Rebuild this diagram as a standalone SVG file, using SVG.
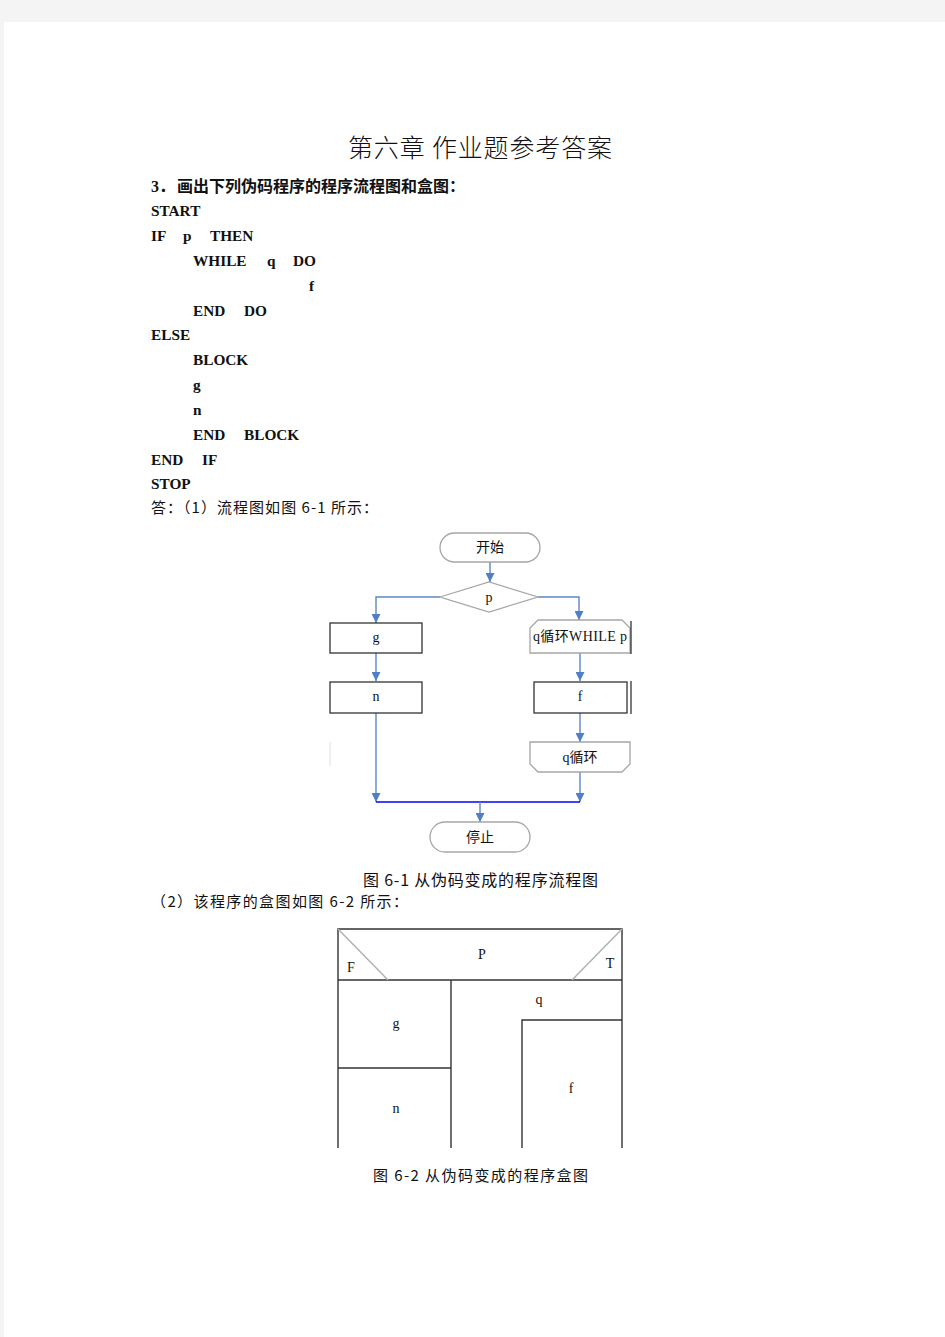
<svg xmlns="http://www.w3.org/2000/svg" width="945" height="1337" viewBox="0 0 945 1337">
<style>
.cn{font-family:"Noto Sans CJK SC","Noto Sans",sans-serif;fill:#111}
.tm{font-family:"Liberation Serif","Noto Sans CJK SC",serif;fill:#111}
.b{font-weight:bold}
.code{font-family:"Liberation Serif",serif;font-weight:bold;font-size:15.3px;fill:#111}
.term{fill:#fff;stroke:#a6a6a6;stroke-width:1.3}
.box{fill:#fff;stroke:#333;stroke-width:1.3}
.con{fill:none;stroke:#5b87c9;stroke-width:1.4}
.bx{stroke:#333;stroke-width:1.4;fill:none}
.diag{stroke:#b0b0b0;stroke-width:1.4}
.lbl{font-size:14px;text-anchor:middle}
</style>
<defs>
<marker id="ah" markerWidth="9" markerHeight="9" refX="9" refY="4.5" orient="auto" markerUnits="userSpaceOnUse">
<path d="M0,0 L9,4.5 L0,9 z" fill="#4f7fc6"/>
</marker>
</defs>
<rect x="0" y="0" width="945" height="1337" fill="#f4f4f4"/>
<rect x="4" y="22" width="941" height="1315" fill="#fff"/>

<text class="cn" x="480" y="157" font-size="25" font-weight="300" text-anchor="middle" textLength="264" lengthAdjust="spacing">第六章 作业题参考答案</text>
<text class="tm b" x="151" y="192" font-size="16">3．</text>
<text class="cn b" x="177" y="192" font-size="16" textLength="288" lengthAdjust="spacing">画出下列伪码程序的程序流程图和盒图：</text>

<g id="pseudocode">
<text class="code" x="151" y="216">START</text>
<text class="code" x="151" y="241">IF</text><text class="code" x="183" y="241">p</text><text class="code" x="210" y="241">THEN</text>
<text class="code" x="193" y="266">WHILE</text><text class="code" x="267" y="266">q</text><text class="code" x="293" y="266">DO</text>
<text class="code" x="309" y="291">f</text>
<text class="code" x="193" y="316">END</text><text class="code" x="244" y="316">DO</text>
<text class="code" x="151" y="340">ELSE</text>
<text class="code" x="193" y="365">BLOCK</text>
<text class="code" x="193" y="390">g</text>
<text class="code" x="193" y="415">n</text>
<text class="code" x="193" y="440">END</text><text class="code" x="244" y="440">BLOCK</text>
<text class="code" x="151" y="465">END</text><text class="code" x="202" y="465">IF</text>
<text class="code" x="151" y="489">STOP</text>
</g>

<text class="cn" x="151" y="513" font-size="15" textLength="227" lengthAdjust="spacing">答：（1）流程图如图 6-1 所示：</text>

<g id="connectors">
<path class="con" d="M490,562 V582" marker-end="url(#ah)"/>
<path class="con" d="M440,597 H376 V623" marker-end="url(#ah)"/>
<path class="con" d="M538,597 H579 V620" marker-end="url(#ah)"/>
<path class="con" d="M376,653 V681" marker-end="url(#ah)"/>
<path class="con" d="M580,653 V681" marker-end="url(#ah)"/>
<path class="con" d="M580,713 V742" marker-end="url(#ah)"/>
<path class="con" d="M376,713 V802" marker-end="url(#ah)"/>
<path class="con" d="M580,772 V802" marker-end="url(#ah)"/>
<path d="M376,802 H580" stroke="#0000ff" stroke-width="1.4" fill="none"/>
<path class="con" d="M480,802 V822" marker-end="url(#ah)"/>
</g>

<g id="start">
<rect class="term" x="440" y="533" width="100" height="29" rx="14.5"/>
<text class="cn lbl" x="490" y="552">开始</text>
</g>
<g id="decision-p">
<polygon class="term" points="440,597 489,582 538,597 489,612"/>
<text class="tm lbl" x="489" y="602">p</text>
</g>
<g id="g-box">
<rect class="box" x="330" y="623" width="92" height="30"/>
<text class="tm lbl" x="376" y="642">g</text>
</g>
<g id="n-box">
<rect class="box" x="330" y="682" width="92" height="31"/>
<text class="tm lbl" x="376" y="701">n</text>
</g>
<g id="loop-start">
<polygon class="term" points="538,620 622,620 630,628 630,653 530,653 530,628"/>
<line x1="631" y1="621" x2="631" y2="654" stroke="#222" stroke-width="1.2"/>
<text class="tm" x="580" y="641" font-size="14" text-anchor="middle" textLength="94" lengthAdjust="spacing">q<tspan class="cn">循环</tspan>WHILE p</text>
</g>
<g id="f-box">
<rect class="box" x="534" y="682" width="93" height="31"/>
<line x1="631" y1="681" x2="631" y2="714" stroke="#222" stroke-width="1.2"/>
<text class="tm lbl" x="580" y="701">f</text>
</g>
<g id="loop-end">
<polygon class="term" points="530,742 630,742 630,764 622,772 538,772 530,764"/>
<text class="tm" x="580" y="762" font-size="14" text-anchor="middle">q<tspan class="cn">循环</tspan></text>
</g>
<line x1="330" y1="742" x2="330" y2="766" stroke="#e0e0e0" stroke-width="1"/>
<g id="stop">
<rect class="term" x="430" y="822" width="100" height="30" rx="15"/>
<text class="cn lbl" x="480" y="842">停止</text>
</g>

<text class="cn" x="363" y="886" font-size="16" textLength="235" lengthAdjust="spacing">图 6-1 从伪码变成的程序流程图</text>
<text class="cn" x="151" y="907" font-size="15" textLength="257" lengthAdjust="spacing">（2）该程序的盒图如图 6-2 所示：</text>

<g id="box-diagram">
<path class="bx" d="M338,1148 V929 H622 V1148"/>
<line class="bx" x1="338" y1="980" x2="622" y2="980"/>
<line class="diag" x1="338" y1="929" x2="388" y2="980"/>
<line class="diag" x1="622" y1="929" x2="572" y2="980"/>
<line class="bx" x1="451" y1="980" x2="451" y2="1148"/>
<line class="bx" x1="338" y1="1068" x2="451" y2="1068"/>
<path class="bx" d="M522,1148 V1020 H622"/>
<text class="tm" x="482" y="959" font-size="14" text-anchor="middle">P</text>
<text class="tm" x="351" y="972" font-size="14" text-anchor="middle">F</text>
<text class="tm" x="610" y="968" font-size="14" text-anchor="middle">T</text>
<text class="tm" x="396" y="1028" font-size="14" text-anchor="middle">g</text>
<text class="tm" x="396" y="1113" font-size="14" text-anchor="middle">n</text>
<text class="tm" x="539" y="1004" font-size="14" text-anchor="middle">q</text>
<text class="tm" x="571" y="1093" font-size="14" text-anchor="middle">f</text>
</g>

<text class="cn" x="373" y="1181" font-size="15" textLength="215" lengthAdjust="spacing">图 6-2 从伪码变成的程序盒图</text>
</svg>
